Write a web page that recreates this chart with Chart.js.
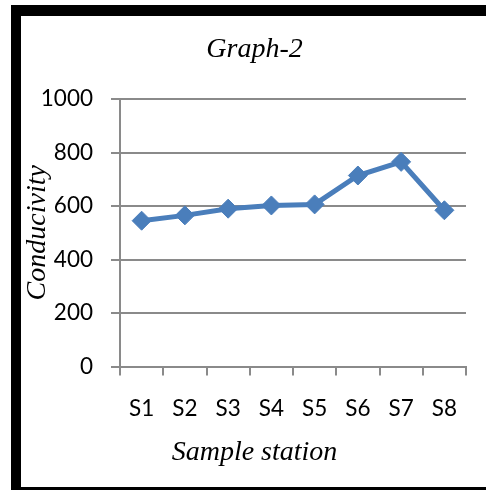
<!DOCTYPE html>
<html>
<head>
<meta charset="utf-8">
<script src="https://cdn.jsdelivr.net/npm/chart.js@4/dist/chart.umd.min.js"></script>
<style>
  html, body { margin: 0; padding: 0; width: 486px; height: 490px; overflow: hidden; background: #fff; }
  #frame {
    position: absolute; left: 11px; top: 5px; width: 600px; height: 471px;
    border-left: 10px solid #000; border-top: 11px solid #000; border-bottom: 3px solid #000;
    background: #fff;
  }
  #wrap { position: absolute; left: 21px; top: 16px; width: 467px; height: 471px; }
</style>
</head>
<body>
<div id="frame"></div>
<div id="wrap"><canvas id="c" width="467" height="471"></canvas></div>
<script>
// Conductivity measured at each sampling station
const stations = ['S1', 'S2', 'S3', 'S4', 'S5', 'S6', 'S7', 'S8'];
const conductivity = [545, 565, 590, 602, 606, 714, 765, 584];
const yTicks = [0, 200, 400, 600, 800, 1000];

const serifItalic = { family: '"Liberation Serif", "Times New Roman", serif', style: 'italic', size: 28, weight: 'normal' };
const tickFont = { family: 'Lato, "Open Sans", sans-serif', size: 22.5 };
const gridGray = '#8a8a8a';
const lineBlue = '#4a7ebb';

new Chart(document.getElementById('c'), {
  type: 'line',
  data: {
    labels: stations,
    datasets: [{
      data: conductivity,
      borderColor: lineBlue,
      backgroundColor: lineBlue,
      borderWidth: 5,
      pointStyle: 'rectRot',
      pointRadius: 9.5,
      pointBorderWidth: 1,
      pointBackgroundColor: lineBlue,
      pointBorderColor: lineBlue,
      tension: 0,
      fill: false
    }]
  },
  options: {
    responsive: false,
    animation: false,
    devicePixelRatio: 1,
    layout: { padding: { left: 0, right: 0, top: 0, bottom: 17.7 } },
    plugins: {
      legend: { display: false },
      tooltip: { enabled: false },
      title: {
        display: true,
        text: 'Graph-2',
        color: '#000',
        font: serifItalic,
        padding: { top: 17, bottom: 32.4 }
      },
      subtitle: {
        display: true,
        position: 'bottom',
        text: 'Sample station',
        color: '#000',
        font: serifItalic,
        padding: { top: 0, bottom: 0 }
      }
    },
    scales: {
      x: {
        type: 'category',
        offset: true,
        afterFit: (s) => { s.height = 69.2; },
        grid: {
          offset: true,
          drawOnChartArea: false,
          drawTicks: true,
          tickLength: 9,
          color: gridGray,
          lineWidth: 2
        },
        border: { display: true, color: gridGray, width: 2 },
        ticks: { color: '#000', font: tickFont, padding: 20, maxRotation: 0, autoSkip: false }
      },
      y: {
        min: 0,
        max: 1000,
        afterFit: (s) => { s.width = 99; },
        afterBuildTicks: (s) => { s.ticks = yTicks.map(v => ({ value: v })); },
        grid: {
          drawTicks: true,
          tickLength: 9,
          color: gridGray,
          lineWidth: 2
        },
        border: { display: true, color: gridGray, width: 2 },
        ticks: { color: '#000', font: tickFont, padding: 18, callback: (v) => String(v) },
        title: {
          display: true,
          text: 'Conducivity',
          color: '#000',
          font: serifItalic,
          padding: { top: 0, bottom: 0 }
        }
      },
      // empty right-hand margin box beside the plot
      yRight: {
        type: 'linear',
        position: 'right',
        display: true,
        afterFit: (s) => { s.width = 22; },
        grid: { display: false },
        border: { display: false },
        ticks: { display: false }
      }
    }
  }
});
</script>
</body>
</html>
